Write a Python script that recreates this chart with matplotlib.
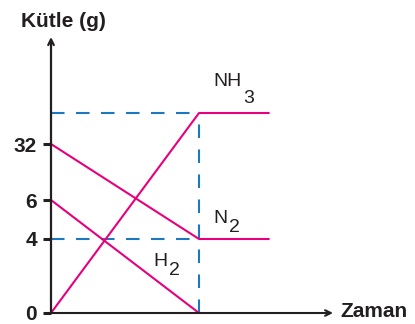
import matplotlib
matplotlib.use('Agg')
import matplotlib.pyplot as plt
import numpy as np

plt.rcParams['font.family'] = ['Liberation Sans', 'DejaVu Sans']

# time axis: reaction ends at t = 1, flat part runs on a bit after
t_react = [0, 1]
t_full = [0, 1, 1.47]

nh3 = [0, 34, 34]
n2 = [32, 4, 4]
h2 = [6, 0]

ytick_vals = [0, 4, 6, 32]
ytick_labels = ['0', '4', '6', '32']

# the y axis in the drawing is not to scale, so use a piecewise mapping
y_vals = [0, 4, 6, 32, 34, 40]
y_pos = [0, 74, 113, 169, 200, 276]

def fwd(v):
    return np.interp(v, y_vals, y_pos)

def inv(p):
    return np.interp(p, y_pos, y_vals)

W, H = 415, 324
magenta = '#e6007e'
blue = '#1d78c1'
dark = '#231f20'

fig = plt.figure(figsize=(W / 100, H / 100), dpi=100)
ax = fig.add_axes([51 / W, 11 / H, (333 - 51) / W, (313 - 37) / H])
ax.set_yscale('function', functions=(fwd, inv))
ax.set_xlim(0, 282 / 148)
ax.set_ylim(0, 40)

for s in ax.spines.values():
    s.set_visible(False)

# dashed guide lines
ax.plot(t_react, [34, 34], color=blue, lw=1.5, ls=(0, (6.5, 5.5)), zorder=1)
ax.plot(t_react, [4, 4], color=blue, lw=1.5, ls=(0, (6.5, 5.5)), zorder=1)
ax.plot([1, 1], [0, 34], color=blue, lw=1.5, ls=(0, (6.5, 5.5)), zorder=1)

# mass curves
ax.plot(t_full, nh3, color=magenta, lw=1.5, zorder=2)
ax.plot(t_full, n2, color=magenta, lw=1.5, zorder=2)
ax.plot(t_react, h2, color=magenta, lw=1.5, zorder=2)

# axes with arrows
ax.annotate('', xy=(1, 0), xytext=(0, 0), xycoords='axes fraction',
            arrowprops=dict(arrowstyle='->', lw=1.5, color=dark, shrinkA=0, shrinkB=0))
ax.annotate('', xy=(0, 1), xytext=(0, 0), xycoords='axes fraction',
            arrowprops=dict(arrowstyle='->', lw=1.6, color=dark, shrinkA=0, shrinkB=0))

ax.set_xticks([])
ax.set_yticks(ytick_vals)
ax.set_yticklabels(ytick_labels, fontsize=15, fontweight='bold', color=dark)
ax.tick_params(axis='y', length=6, width=2.2, color=dark, pad=4)
ax.yaxis.set_minor_locator(matplotlib.ticker.NullLocator())


def px_text(x, y, s, **kw):
    fig.text(x / W, 1 - y / H, s, va='baseline', ha='left', color=dark, **kw)


px_text(21, 27, 'Kütle (g)', fontsize=15, fontweight='bold')
px_text(340, 317, 'Zaman', fontsize=15, fontweight='bold')

px_text(213, 86, 'NH', fontsize=14)
px_text(243, 103, '3', fontsize=14)
px_text(213, 223, 'N', fontsize=14)
px_text(229, 232, '2', fontsize=14)
px_text(153, 266, 'H', fontsize=14)
px_text(169, 275, '2', fontsize=14)

fig.savefig('out.png', dpi=100)
